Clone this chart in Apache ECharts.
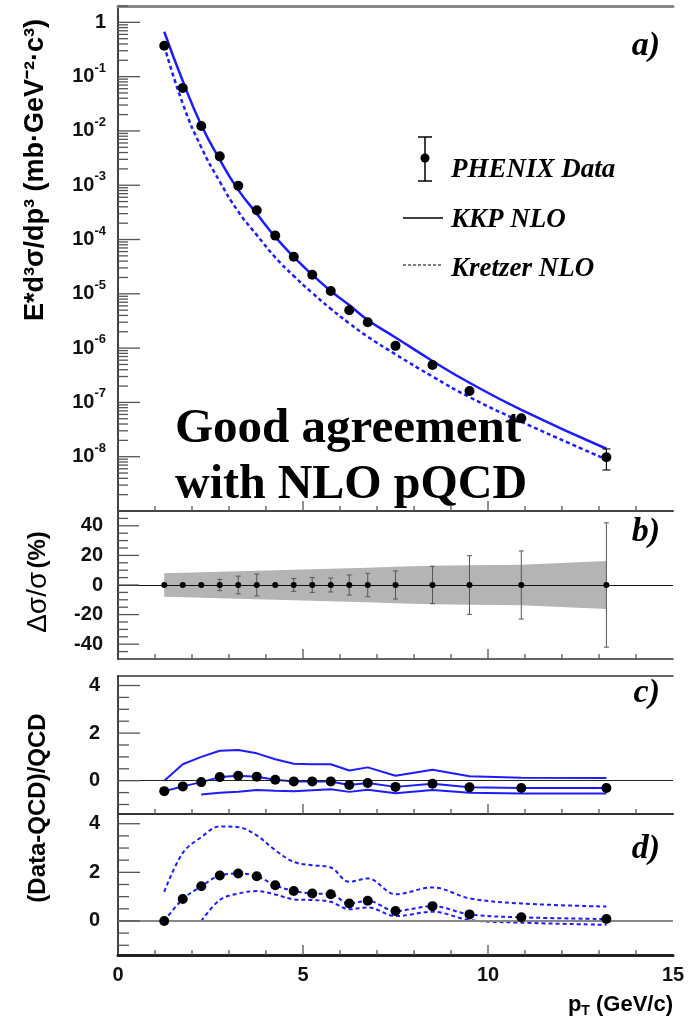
<!DOCTYPE html>
<html>
<head>
<meta charset="utf-8">
<script src="https://cdn.jsdelivr.net/npm/echarts@6/dist/echarts.min.js"></script>
<style>
html,body{margin:0;padding:0;background:#fff;}
#chart{width:689px;height:1020px;}
</style>
</head>
<body>
<div id="chart"></div>
<script>
// pT bin centres (GeV/c)
const pt = [1.25, 1.75, 2.25, 2.75, 3.25, 3.75, 4.25, 4.75, 5.25, 5.75, 6.25, 6.75, 7.5, 8.5, 9.5, 10.9, 13.2];

// a) invariant cross section (mb GeV^-2 c^3)
const phenix = [0.37, 0.062, 0.0123, 0.0034, 9.8e-4, 3.45e-4, 1.18e-4, 4.8e-5, 2.24e-5, 1.13e-5, 5.0e-6, 3.0e-6, 1.1e-6, 4.9e-7, 1.62e-7, 5.1e-8, 9.8e-9];
const phenixErr = [null, null, null, null, null, null, null, null, null, null, null, null, null, null, null, null, 4.1e-9];
const kkpNlo = [0.67, 0.083, 0.0129, 0.00296, 8.2e-4, 3.0e-4, 1.12e-4, 4.8e-5, 2.24e-5, 1.13e-5, 6.2e-6, 3.3e-6, 1.57e-6, 5.8e-7, 2.3e-7, 7.3e-8, 1.4e-8];
const kretzerNlo = [0.37, 0.0318, 0.0050, 0.00117, 3.27e-4, 1.21e-4, 4.7e-5, 2.13e-5, 1.04e-5, 5.3e-6, 2.86e-6, 1.62e-6, 7.7e-7, 3.0e-7, 1.25e-7, 4.4e-8, 8.9e-9];

// b) relative errors (%)
const statErr = [0, 0, 0, 3.8, 6, 7.4, 0, 4.3, 5, 4.7, 6.8, 7.9, 9.5, 12.6, 19.8, 23, 42];
const sysBand = [7.9, 8.3, 8.6, 9.0, 9.3, 9.7, 10.0, 10.3, 10.7, 11.0, 11.4, 11.7, 12.3, 13.0, 13.3, 13.6, 16.2];

// c) (Data-KKP)/KKP with scale band
const kkpRatio = [-0.44, -0.24, -0.06, 0.15, 0.21, 0.17, 0.04, -0.03, -0.03, -0.03, -0.18, -0.10, -0.26, -0.13, -0.28, -0.31, -0.31];
const kkpHigh = [0, 0.69, 1.0, 1.26, 1.29, 1.15, 0.9, 0.71, 0.69, 0.69, 0.43, 0.56, 0.21, 0.46, 0.19, 0.12, 0.11];
const kkpLow = [null, null, -0.58, -0.51, -0.46, -0.39, -0.42, -0.44, -0.40, -0.36, -0.47, -0.38, -0.53, -0.39, -0.51, -0.54, -0.54];

// d) (Data-Kretzer)/Kretzer with scale band
const krRatio = [0, 0.90, 1.43, 1.87, 1.95, 1.84, 1.47, 1.23, 1.13, 1.10, 0.72, 0.83, 0.41, 0.61, 0.27, 0.15, 0.08];
const krHigh = [1.2, 2.8, 3.45, 3.89, 3.86, 3.52, 2.91, 2.43, 2.29, 2.2, 1.61, 1.75, 1.1, 1.38, 0.93, 0.72, 0.59];
const krLow = [null, null, 0, 0.86, 1.13, 1.23, 1.09, 0.89, 0.86, 0.79, 0.48, 0.56, 0.2, 0.38, 0.04, -0.07, -0.16];

// axis tick values
const xMajorTicks = [5, 10];
const xMinorTicks = [1, 2, 3, 4, 6, 7, 8, 9, 11, 12, 13, 14];
const logMajorTicks = [1e-8, 1e-7, 1e-6, 1e-5, 1e-4, 1e-3, 1e-2, 1e-1, 1];
const bMajorTicks = [-40, -20, 0, 20, 40];
const bMinorTicks = [-45, -35, -30, -25, -15, -10, -5, 5, 10, 15, 25, 30, 35, 45];
const rMajorTicks = [0, 2, 4];
const rMinorTicks = [-1, -0.5, 0.5, 1, 1.5, 2.5, 3, 3.5];

// 2..9 sub-ticks inside each decade of the log axis
const logMinorTicks = [];
for (let e = -9; e <= 0; e++) {
  for (let k = 2; k <= 9; k++) {
    const v = k * Math.pow(10, e);
    if (v <= 2) logMinorTicks.push(v);
  }
}

const BLUE = '#1c1cff';
const SANS = '"Liberation Sans", Arial, Helvetica, sans-serif';
const SERIF = '"Liberation Serif", "Times New Roman", serif';
const yMins = [1e-9, -50, -1.4, -1.4];

const pairs = (xs, ys) => xs.map((x, i) => [x, ys[i]]).filter(p => p[1] !== null);

function yTickSeries(gi, vals, len) {
  return {
    type: 'custom', xAxisIndex: gi, yAxisIndex: gi, silent: true, clip: false, z: 6,
    data: vals.map(v => [0, v]),
    renderItem: (params, api) => {
      const p = api.coord([0, api.value(1)]);
      return { type: 'line', shape: { x1: p[0], y1: p[1], x2: p[0] + len, y2: p[1] },
               style: { stroke: '#555', lineWidth: 1.3 } };
    }
  };
}
function xTickSeries(gi, vals, len) {
  return {
    type: 'custom', xAxisIndex: gi, yAxisIndex: gi, silent: true, clip: false, z: 6,
    data: vals.map(v => [v, yMins[gi]]),
    renderItem: (params, api) => {
      const p = api.coord([api.value(0), yMins[gi]]);
      return { type: 'line', shape: { x1: p[0], y1: p[1], x2: p[0], y2: p[1] - len },
               style: { stroke: '#555', lineWidth: 1.3 } };
    }
  };
}
function errorSeries(gi, xs, ys, errs, cap, color, width) {
  const data = [];
  xs.forEach((x, i) => { if (errs[i]) data.push([x, ys[i] - errs[i], ys[i] + errs[i]]); });
  return {
    type: 'custom', xAxisIndex: gi, yAxisIndex: gi, silent: true, z: 4,
    data: data,
    renderItem: (params, api) => {
      const lo = api.coord([api.value(0), api.value(1)]);
      const hi = api.coord([api.value(0), api.value(2)]);
      const st = { stroke: color, lineWidth: width };
      return { type: 'group', children: [
        { type: 'line', shape: { x1: lo[0], y1: lo[1], x2: hi[0], y2: hi[1] }, style: st },
        { type: 'line', shape: { x1: lo[0] - cap, y1: lo[1], x2: lo[0] + cap, y2: lo[1] }, style: st },
        { type: 'line', shape: { x1: hi[0] - cap, y1: hi[1], x2: hi[0] + cap, y2: hi[1] }, style: st }
      ] };
    }
  };
}
function lineSeries(gi, xs, ys, dashed, width, smooth) {
  return {
    type: 'line', xAxisIndex: gi, yAxisIndex: gi, data: pairs(xs, ys),
    showSymbol: false, smooth: smooth, silent: true, z: 3,
    lineStyle: { color: BLUE, width: width, type: dashed ? [4, 3] : 'solid' }
  };
}
function dotSeries(gi, xs, ys, size) {
  return {
    type: 'scatter', xAxisIndex: gi, yAxisIndex: gi, data: pairs(xs, ys),
    symbol: 'circle', symbolSize: size, itemStyle: { color: '#000', opacity: 1 }, silent: true, z: 5
  };
}
function zeroLine(color, width) {
  return { silent: true, symbol: 'none', label: { show: false },
           lineStyle: { color: color, width: width, type: 'solid' },
           data: [{ yAxis: 0 }] };
}

const L = 118, R = 16;
const grids = [
  { left: L, right: R, top: 6, height: 505 },
  { left: L, right: R, top: 511, height: 148 },
  { left: L, right: R, top: 676, height: 138 },
  { left: L, right: R, top: 814, height: 141 }
];
const bottomLines = [['#444', 2], ['#333', 1.5], ['#333', 2], ['#222', 3]];

const xAxes = grids.map((g, i) => ({
  type: 'value', gridIndex: i, min: 0, max: 15, interval: 1, position: 'bottom',
  axisLine: { show: true, onZero: false, lineStyle: { color: bottomLines[i][0], width: bottomLines[i][1] } },
  axisTick: { show: false }, splitLine: { show: false },
  axisLabel: {
    show: i === 3, margin: 10, color: '#111', fontFamily: SANS, fontWeight: 'bold', fontSize: 20,
    formatter: v => (v % 5 === 0 ? String(v) : '')
  }
}));
// top borders of panels a) and c)
xAxes.push({
  type: 'value', gridIndex: 0, min: 0, max: 15, position: 'top',
  axisLine: { show: true, onZero: false, lineStyle: { color: '#888', width: 3 } },
  axisTick: { show: false }, axisLabel: { show: false }, splitLine: { show: false }
});
xAxes.push({
  type: 'value', gridIndex: 2, min: 0, max: 15, position: 'top',
  axisLine: { show: true, onZero: false, lineStyle: { color: '#333', width: 1.5 } },
  axisTick: { show: false }, axisLabel: { show: false }, splitLine: { show: false }
});

const yLine = { show: true, onZero: false, lineStyle: { color: '#444', width: 2 } };
const labelBase = { color: '#111', fontFamily: SANS, fontWeight: 'bold', fontSize: 20 };

const yAxes = [
  {
    type: 'log', logBase: 10, gridIndex: 0, min: 1e-9, max: 2, interval: 1,
    axisLine: yLine, axisTick: { show: false }, splitLine: { show: false }, minorTick: { show: false },
    axisLabel: {
      margin: 12,
      formatter: v => {
        const e = Math.log10(v), r = Math.round(e);
        if (Math.abs(e - r) > 1e-6 || r < -8 || r > 0) return '';
        return r === 0 ? '{b|1}' : '{b|10}{s|' + r + '}';
      },
      rich: {
        b: { fontFamily: SANS, fontWeight: 'bold', fontSize: 20, color: '#111', lineHeight: 30 },
        s: { fontFamily: SANS, fontWeight: 'bold', fontSize: 13, color: '#111', lineHeight: 10, verticalAlign: 'top' }
      }
    }
  },
  {
    type: 'value', gridIndex: 1, min: -50, max: 50, interval: 10,
    axisLine: yLine, axisTick: { show: false }, splitLine: { show: false },
    axisLabel: Object.assign({ margin: 15, formatter: v => (v % 20 === 0 && Math.abs(v) <= 40 ? String(v) : '') }, labelBase)
  }
];
[2, 3].forEach(i => {
  yAxes.push({
    type: 'value', gridIndex: i, min: -1.4, max: 4.4, interval: 0.2,
    axisLine: yLine, axisTick: { show: false }, splitLine: { show: false },
    axisLabel: Object.assign({
      margin: 18,
      formatter: v => {
        const r = Math.round(v);
        return (Math.abs(v - r) < 1e-6 && r >= 0 && r % 2 === 0) ? String(r) : '';
      }
    }, labelBase)
  });
});

const series = [];

// a) spectrum
series.push(lineSeries(0, pt, kkpNlo, false, 2.5, true));
series.push(lineSeries(0, pt, kretzerNlo, true, 2.5, true));
series.push(errorSeries(0, pt, phenix, phenixErr, 4, '#111', 1.2));
series.push(dotSeries(0, pt, phenix, 10));

// b) systematic band, statistical errors
series.push({
  type: 'custom', xAxisIndex: 1, yAxisIndex: 1, silent: true, z: 1, data: [[0, 0]],
  renderItem: (params, api) => {
    const pts = [];
    pt.forEach((x, i) => pts.push(api.coord([x, sysBand[i]])));
    for (let i = pt.length - 1; i >= 0; i--) pts.push(api.coord([pt[i], -sysBand[i]]));
    return { type: 'polygon', shape: { points: pts }, style: { fill: '#b4b4b4' } };
  }
});
series.push({
  type: 'line', xAxisIndex: 1, yAxisIndex: 1, data: [], silent: true,
  markLine: zeroLine('#111', 1.2)
});
series.push(errorSeries(1, pt, pt.map(() => 0), statErr, 2.5, '#555', 1));
series.push(dotSeries(1, pt, pt.map(() => 0), 6));

// c) KKP ratio
series.push({
  type: 'line', xAxisIndex: 2, yAxisIndex: 2, data: [], silent: true,
  markLine: zeroLine('#222', 1.2)
});
series.push(lineSeries(2, pt, kkpHigh, false, 2, false));
series.push(lineSeries(2, pt, kkpLow, false, 2, false));
series.push(lineSeries(2, pt, kkpRatio, false, 2, false));
series.push(dotSeries(2, pt, kkpRatio, 10));

// d) Kretzer ratio
series.push({
  type: 'line', xAxisIndex: 3, yAxisIndex: 3, data: [], silent: true,
  markLine: zeroLine('#888', 2)
});
series.push(lineSeries(3, pt, krHigh, true, 2, 0.35));
series.push(lineSeries(3, pt, krLow, true, 2, 0.35));
series.push(lineSeries(3, pt, krRatio, true, 2, 0.35));
series.push(dotSeries(3, pt, krRatio, 10));

// inner ticks
series.push(yTickSeries(0, logMajorTicks, 22));
series.push(yTickSeries(0, logMinorTicks, 10));
series.push(yTickSeries(1, bMajorTicks, 21));
series.push(yTickSeries(1, bMinorTicks, 10));
[2, 3].forEach(i => {
  series.push(yTickSeries(i, rMajorTicks, 22));
  series.push(yTickSeries(i, rMinorTicks, 11));
});
[0, 1, 2, 3].forEach(i => {
  series.push(xTickSeries(i, xMajorTicks, 10));
  series.push(xTickSeries(i, xMinorTicks, 5));
});

const panelTag = (txt, y) => ({
  type: 'text', x: 660, y: y, z: 20,
  style: { text: txt, font: 'italic bold 34px ' + SERIF, fill: '#000', align: 'right', verticalAlign: 'middle' }
});
const legendFont = 'italic bold 27px ' + SERIF;

const graphic = [
  // y titles
  { type: 'text', x: 36, y: 170, rotation: Math.PI / 2, z: 20,
    style: { text: 'E*d³σ/dp³ (mb·GeV⁻²·c³)', font: 'bold 27px ' + SANS, fill: '#000', align: 'center', verticalAlign: 'middle' } },
  { type: 'text', x: 38, y: 582, rotation: Math.PI / 2, z: 20,
    style: { text: '{g|Δσ/σ} {p|(%)}', align: 'center', verticalAlign: 'middle',
      rich: { g: { font: '28px ' + SANS, fill: '#000' }, p: { font: 'bold 24px ' + SANS, fill: '#000' } } } },
  { type: 'text', x: 38, y: 808, rotation: Math.PI / 2, z: 20,
    style: { text: '(Data-QCD)/QCD', font: 'bold 24px ' + SANS, fill: '#000', align: 'center', verticalAlign: 'middle' } },
  // x title
  { type: 'text', x: 673, y: 1005, z: 20,
    style: { text: '{b|p}{s|T}{b| (GeV/c)}', align: 'right', verticalAlign: 'middle',
      rich: { b: { font: 'bold 22px ' + SANS, fill: '#000', lineHeight: 26 },
              s: { font: 'bold 14px ' + SANS, fill: '#000', lineHeight: 14, verticalAlign: 'bottom' } } } },
  // panel tags
  panelTag('a)', 46), panelTag('b)', 532), panelTag('c)', 693), panelTag('d)', 849),
  // legend
  { type: 'line', z: 20, shape: { x1: 425, y1: 137, x2: 425, y2: 181 }, style: { stroke: '#000', lineWidth: 1.5 } },
  { type: 'line', z: 20, shape: { x1: 418, y1: 137, x2: 432, y2: 137 }, style: { stroke: '#000', lineWidth: 1.5 } },
  { type: 'line', z: 20, shape: { x1: 418, y1: 181, x2: 432, y2: 181 }, style: { stroke: '#000', lineWidth: 1.5 } },
  { type: 'circle', z: 20, shape: { cx: 425, cy: 158, r: 4.5 }, style: { fill: '#000' } },
  { type: 'text', x: 451, y: 170, z: 20, style: { text: 'PHENIX Data', font: legendFont, fill: '#000', verticalAlign: 'middle' } },
  { type: 'line', z: 20, shape: { x1: 403, y1: 218, x2: 443, y2: 218 }, style: { stroke: '#000', lineWidth: 1.5 } },
  { type: 'text', x: 451, y: 220, z: 20, style: { text: 'KKP NLO', font: legendFont, fill: '#000', verticalAlign: 'middle' } },
  { type: 'line', z: 20, shape: { x1: 403, y1: 265, x2: 443, y2: 265 }, style: { stroke: '#000', lineWidth: 1.2, lineDash: [3, 2] } },
  { type: 'text', x: 451, y: 269, z: 20, style: { text: 'Kretzer NLO', font: legendFont, fill: '#000', verticalAlign: 'middle' } },
  // annotation
  { type: 'text', x: 175, y: 429, z: 20, style: { text: 'Good agreement', font: 'bold 49px ' + SERIF, fill: '#000', verticalAlign: 'middle' } },
  { type: 'text', x: 175, y: 486, z: 20, style: { text: 'with NLO pQCD', font: 'bold 48px ' + SERIF, fill: '#000', verticalAlign: 'middle' } }
];

const chart = echarts.init(document.getElementById('chart'), null, { renderer: 'canvas' });
chart.setOption({
  animation: false,
  backgroundColor: '#fff',
  grid: grids,
  xAxis: xAxes,
  yAxis: yAxes,
  series: series,
  graphic: graphic
});
</script>
</body>
</html>
